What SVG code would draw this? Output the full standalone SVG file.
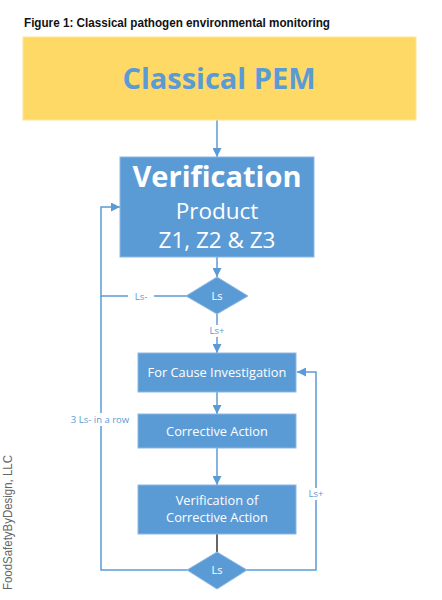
<svg xmlns="http://www.w3.org/2000/svg" width="442" height="600" viewBox="0 0 442 600">
<style>
.box{fill:#5B9BD5;stroke:#8DB8E4;stroke-width:1}
.wt{fill:#fff;font-family:"Open Sans",sans-serif;text-anchor:middle}
.ln{fill:none;stroke:#5B9BD5;stroke-width:1.5}
.lbl{fill:#5B9BD5;font-family:"Open Sans",sans-serif;font-size:9.5px;text-anchor:middle}
</style>
<defs>
<marker id="ah" viewBox="0 0 10 10" refX="10" refY="5" markerWidth="9" markerHeight="9" markerUnits="userSpaceOnUse" orient="auto">
<path d="M0,0 L10,5 L0,10 z" fill="#5B9BD5"/>
</marker>
</defs>
<rect width="442" height="600" fill="#fff"/>
<text x="24" y="27" font-family="'Liberation Sans Narrow','Liberation Sans',sans-serif" font-weight="bold" font-size="13.5" textLength="306" lengthAdjust="spacingAndGlyphs" fill="#111">Figure 1: Classical pathogen environmental monitoring</text>

<g id="connectors">
<line class="ln" x1="217" y1="120" x2="217" y2="157" marker-end="url(#ah)"/>
<line class="ln" x1="217" y1="257" x2="217" y2="277" marker-end="url(#ah)"/>
<line class="ln" x1="217" y1="314" x2="217" y2="353" marker-end="url(#ah)"/>
<line class="ln" x1="217" y1="392" x2="217" y2="414" marker-end="url(#ah)"/>
<line class="ln" x1="217" y1="448" x2="217" y2="485" marker-end="url(#ah)"/>
<line x1="217" y1="534" x2="217" y2="552" stroke="#333" stroke-width="1.5"/>
<polyline class="ln" points="187,296 101,296 101,207 120,207" marker-end="url(#ah)"/>
<polyline class="ln" points="187,570 101,570 101,296"/>
<polyline class="ln" points="247,570 316,570 316,372 297,372" marker-end="url(#ah)"/>
<rect x="128" y="291" width="26" height="11" fill="#fff"/>
<text class="lbl" x="141" y="299.5">Ls-</text>
<rect x="205" y="325" width="24" height="12" fill="#fff"/>
<text class="lbl" x="217" y="334">Ls+</text>
<rect x="67" y="413" width="66" height="13" fill="#fff"/>
<text class="lbl" x="100" y="423">3 Ls- in a row</text>
<rect x="304" y="488" width="24" height="12" fill="#fff"/>
<text class="lbl" x="316" y="497">Ls+</text>
</g>

<g id="classical-pem">
<rect x="23" y="37" width="393" height="83" fill="#FED966" stroke="#FEE699" stroke-width="1"/>
<text x="219" y="89" font-family="'Open Sans',sans-serif" font-weight="bold" font-size="29" fill="#5B9BD5" text-anchor="middle">Classical PEM</text>
</g>

<g id="verification">
<rect class="box" x="120" y="157" width="194" height="100"/>
<text class="wt" x="217" y="187" font-size="29" font-weight="bold">Verification</text>
<text class="wt" x="217" y="219" font-size="22.5">Product</text>
<text class="wt" x="217" y="248" font-size="22.5">Z1, Z2 &amp; Z3</text>
</g>

<g id="ls-decision-1">
<polygon class="box" points="217,277 248,296 217,314 186,296" stroke="none"/>
<text class="wt" x="217" y="300" font-size="11">Ls</text>
</g>

<g id="for-cause">
<rect class="box" x="138" y="353" width="158" height="39"/>
<text class="wt" x="217" y="376.5" font-size="12.8">For Cause Investigation</text>
</g>

<g id="corrective-action">
<rect class="box" x="138" y="414" width="158" height="34"/>
<text class="wt" x="217" y="435.5" font-size="12.8">Corrective Action</text>
</g>

<g id="verification-ca">
<rect class="box" x="138" y="485" width="158" height="49"/>
<text class="wt" x="217" y="505" font-size="12.8">Verification of</text>
<text class="wt" x="217" y="522" font-size="12.8">Corrective Action</text>
</g>

<g id="ls-decision-2">
<polygon class="box" points="217,552 247,570 217,589 187,570" stroke="none"/>
<text class="wt" x="217" y="574" font-size="11">Ls</text>
</g>

<text x="0" y="0" transform="translate(12,590) rotate(-90)" font-family="'Liberation Sans',sans-serif" font-size="12" fill="#666" textLength="135" lengthAdjust="spacingAndGlyphs">FoodSafetyByDesign, LLC</text>
</svg>
